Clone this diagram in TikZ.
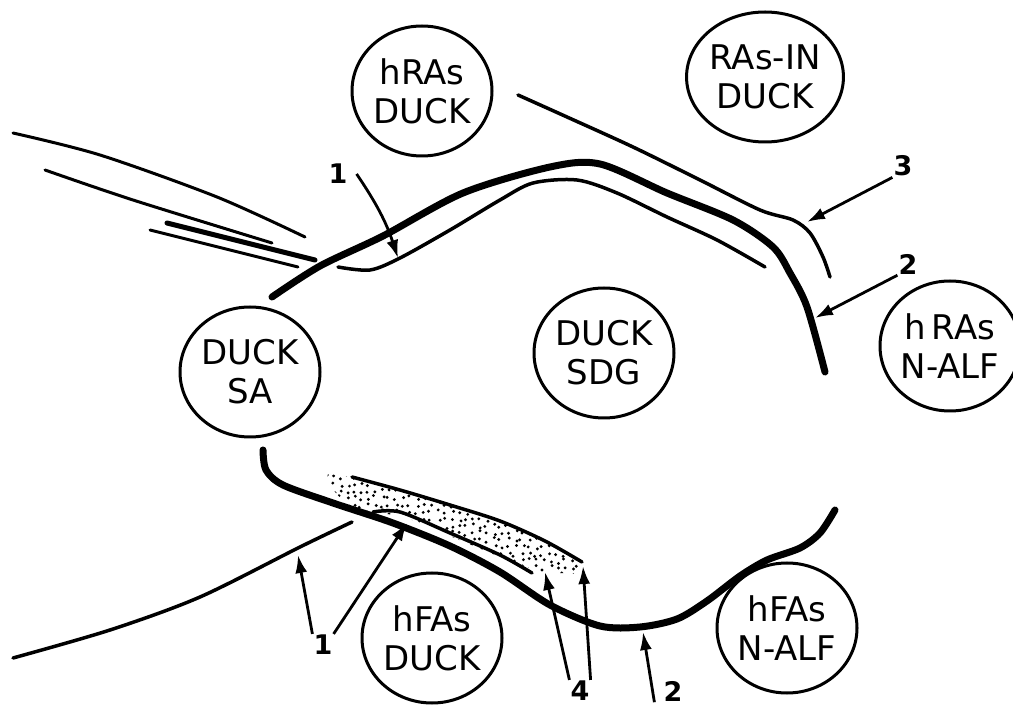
\documentclass[tikz,border=0pt]{standalone}
\usepackage{fontspec}
\setmainfont{DejaVu Sans}
\usetikzlibrary{arrows.meta,shapes.geometric}

\begin{document}
\begin{tikzpicture}[x=1pt,y=-1pt,
  cell/.style={ellipse, draw, line width=3pt, minimum width=140pt, minimum height=130pt, inner sep=0pt, align=center, font=\fontsize{34}{39}\selectfont},
  wall/.style={line width=7pt, line cap=round},
  film/.style={line width=3.5pt, line cap=round},
  num/.style={font=\bfseries\fontsize{27}{30}\selectfont, inner sep=1pt},
  pointer/.style={line width=2.8pt, -{Latex[length=18pt,width=12pt]}}]
\useasboundingbox (0,0) rectangle (1013,708);
\node[cell] (hrasduck) at (422,91) {hRAs\\DUCK};
\node[cell] (rasin) at (765,77) {RAs-IN\\DUCK};
\node[cell] (ducksa) at (250,372) {DUCK\\SA};
\node[cell] (ducksdg) at (604,353) {DUCK\\SDG};
\node[cell] (hrasnalf) at (950,346) {h\,RAs\\N-ALF};
\node[cell] (hfasduck) at (432,638) {hFAs\\DUCK};
\node[cell] (hfasnalf) at (787,628) {hFAs\\N-ALF};
\draw[wall] plot[smooth] coordinates {(272,297) (320,266) (383,236) (463,193) (550,167) (600,164) (667,193) (733,220) (773,247) (790,273) (807,307) (825,372)};
\draw[film] plot[smooth] coordinates {(338,267) (370,270) (400,258) (450,230) (500,200) (533,183) (577,180) (617,193) (667,217) (717,240) (765,267)};
\draw[film] plot[smooth] coordinates {(518,95) (567,117) (633,147) (700,180) (760,210) (793,220) (810,233) (823,257) (830,277)};
\draw[film, line width=3pt] plot[smooth] coordinates {(13,133) (100,155) (217,197) (305,237)};
\draw[film, line width=3pt] plot[smooth] coordinates {(45,170) (133,200) (272,243)};
\draw[film, line width=5pt] (167,223) -- (315,260);
\draw[film, line width=3pt] (150,230) -- (298,267);
\begin{scope}
\clip (328,474) -- (352,477) -- (400,490) -- (450,505) -- (500,521) -- (545,541) -- (584,563) -- (580,574) -- (540,572) -- (500,557) -- (450,536) -- (400,515) -- (370,513) -- (345,503) -- (326,482) -- cycle;
\pgfmathsetseed{3}
\foreach \i in {0,...,38} \foreach \j in {0,...,15} \fill ({326+7*\i+2.5*rand},{470+7*\j+2.5*rand}) circle (1.6pt);
\end{scope}
\draw[film] plot[smooth] coordinates {(352,477) (400,490) (450,505) (500,521) (545,541) (582,562)};
\draw[film] plot[smooth] coordinates {(373,512) (400,512) (450,533) (500,555) (532,573)};
\draw[wall] plot[smooth] coordinates {(263,450) (266,470) (283,485) (333,503) (393,523) (450,546) (500,572) (550,605) (600,626) (640,627) (677,619) (707,601) (740,576) (767,560) (800,548) (820,533) (835,510)};
\draw[film] plot[smooth] coordinates {(13,658) (110,630) (200,597) (300,547) (352,522)};
\node[num] (n1a) at (338,174) {1};
\node[num] (n3) at (903,166) {3};
\node[num] (n2a) at (908,264) {2};
\node[num] (n1b) at (323,645) {1};
\node[num] (n4) at (580,691) {4};
\node[num] (n2b) at (673,691) {2};
\coordinate (t1a) at (398,258);
\coordinate (t3) at (807,222);
\coordinate (t2a) at (815,318);
\coordinate (t1b) at (298,555);
\coordinate (t1c) at (407,523);
\coordinate (t4a) at (545,572);
\coordinate (t4b) at (583,566);
\coordinate (t2b) at (643,632);
\draw[pointer] ([xshift=8pt]n1a.east) to[bend left=8] (t1a);
\draw[pointer] (n3.south west) -- (t3);
\draw[pointer] (n2a.south west) -- (t2a);
\draw[pointer] (n1b.north west) -- (t1b);
\draw[pointer] (n1b.north east) -- (t1c);
\draw[pointer] (n4.north west) -- (t4a);
\draw[pointer] (n4.north east) -- (t4b);
\draw[pointer] ([xshift=-8pt]n2b.south west) -- (t2b);
\end{tikzpicture}
\end{document}
